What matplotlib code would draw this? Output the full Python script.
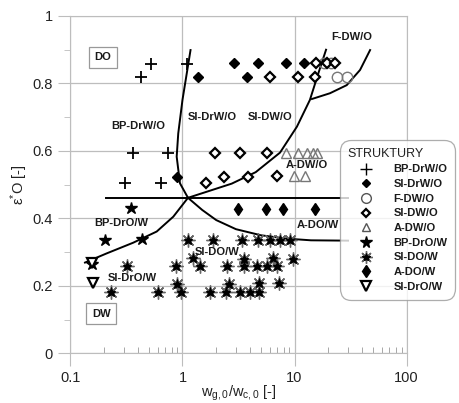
import matplotlib
matplotlib.use("Agg")
import matplotlib.pyplot as plt
from matplotlib.lines import Line2D

plt.rcParams['font.family'] = ['Liberation Sans', 'DejaVu Sans']
plt.rcParams['mathtext.fontset'] = 'custom'
plt.rcParams['mathtext.rm'] = 'Liberation Sans'
plt.rcParams['mathtext.it'] = 'Liberation Sans'

# --- dane pomiarowe ---
bp_drw_o_x = [0.43, 0.52, 1.09, 0.36, 0.75, 0.305, 0.64]
bp_drw_o_y = [0.818, 0.858, 0.858, 0.593, 0.593, 0.504, 0.504]

si_drw_o_x = [1.38, 2.9, 4.75, 8.45, 12.1, 3.74, 0.89]
si_drw_o_y = [0.818, 0.86, 0.86, 0.86, 0.86, 0.818, 0.522]

f_dw_o_x = [18.5, 21.0, 24.1, 29.2]
f_dw_o_y = [0.86, 0.86, 0.818, 0.818]

si_dw_o_x = [15.6, 19.6, 23.0, 6.04, 10.8, 15.2, 1.95, 3.26, 5.65, 1.63, 2.37, 3.87, 7.0]
si_dw_o_y = [0.86, 0.86, 0.86, 0.818, 0.818, 0.818, 0.593, 0.593, 0.593, 0.506, 0.524, 0.524, 0.527]

a_dw_o_x = [8.4, 10.8, 13.0, 14.7, 15.7, 9.8, 12.4]
a_dw_o_y = [0.593, 0.593, 0.593, 0.593, 0.593, 0.526, 0.526]

bp_dro_w_x = [0.347, 0.205, 0.432, 0.155]
bp_dro_w_y = [0.43, 0.337, 0.34, 0.264]

si_do_w_x = [1.13, 1.88, 3.38, 4.75, 6.04, 7.42, 9.12,
             1.23, 3.56, 6.47, 9.76,
             0.32, 0.875, 1.43, 2.48, 3.56, 4.59, 5.65, 6.93,
             0.90, 2.62, 4.85, 7.23,
             0.229, 0.608, 0.98, 1.76, 2.44, 3.26, 4.0, 4.85]
si_do_w_y = [0.336, 0.336, 0.336, 0.336, 0.336, 0.336, 0.336,
             0.282, 0.280, 0.282, 0.279,
             0.259, 0.259, 0.259, 0.259, 0.259, 0.259, 0.259, 0.259,
             0.205, 0.205, 0.207, 0.207,
             0.182, 0.182, 0.182, 0.182, 0.182, 0.182, 0.182, 0.182]

a_do_w_x = [3.15, 5.6, 7.94, 15.2]
a_do_w_y = [0.427, 0.427, 0.427, 0.427]

si_dro_w_x = [0.155, 0.16]
si_dro_w_y = [0.267, 0.2075]

# granice obszarow
gr_poz_x = [0.21, 30]
gr_poz_y = [0.461, 0.461]
gr_pd_x = [1.12, 1.5, 2.0, 3.0, 5.0, 8.5, 14.0, 30.0]
gr_pd_y = [0.461, 0.425, 0.395, 0.368, 0.35, 0.34, 0.335, 0.334]
gr_ld_x = [0.135, 0.21, 0.364, 0.589, 0.828, 1.12]
gr_ld_y = [0.269, 0.296, 0.328, 0.361, 0.405, 0.461]
gr_pion_x = [1.12, 0.95, 0.888, 0.917, 1.0, 1.18]
gr_pion_y = [0.461, 0.504, 0.583, 0.652, 0.751, 0.899]
gr_gora_x = [1.12, 2.75, 4.5, 7.42, 10.5, 13.7, 16.3, 19.1]
gr_gora_y = [0.461, 0.503, 0.537, 0.595, 0.672, 0.751, 0.83, 0.9]
gr_f_x = [14.3, 20.7, 29.2, 38.4, 47.2]
gr_f_y = [0.754, 0.771, 0.795, 0.84, 0.899]

etykiety = ["BP-DrW/O", "SI-DrW/O", "F-DW/O", "SI-DW/O", "A-DW/O",
            "BP-DrO/W", "SI-DO/W", "A-DO/W", "SI-DrO/W"]

szary = '#bdbdbd'

fig = plt.figure(figsize=(4.6, 4.03), dpi=100)
ax = fig.add_axes([0.153, 0.1233, 0.731, 0.8370])

ax.set_xscale('log')
ax.set_xlim(0.1, 100)
ax.set_ylim(0, 1)

ax.grid(True, which='major', color=szary, lw=0.9)
for s in ax.spines.values():
    s.set_color(szary)
ax.tick_params(axis='both', which='major', color=szary, labelsize=10.5,
               labelcolor='#222222', length=9, direction='out')
ax.tick_params(axis='x', which='minor', color='#999999', length=4, direction='in')
ax.set_yticks([0, 0.2, 0.4, 0.6, 0.8, 1.0])
ax.set_yticklabels(['0', '0.2', '0.4', '0.6', '0.8', '1'])
ax.set_yticks([0.1, 0.3, 0.5, 0.7, 0.9], minor=True)
ax.tick_params(axis='y', which='minor', color=szary, length=4, direction='out')
ax.set_xticks([0.1, 1, 10, 100])
ax.set_xticklabels(['0.1', '1', '10', '100'])

# granice
for gx, gy in [(gr_poz_x, gr_poz_y), (gr_pd_x, gr_pd_y), (gr_ld_x, gr_ld_y),
               (gr_pion_x, gr_pion_y), (gr_gora_x, gr_gora_y), (gr_f_x, gr_f_y)]:
    ax.plot(gx, gy, color='black', lw=1.4, zorder=3)

# punkty
ax.plot(f_dw_o_x, f_dw_o_y, 'o', ms=7.5, mfc='none', mec='#777777', mew=1, zorder=4)
ax.plot(bp_drw_o_x, bp_drw_o_y, '+', ms=9, color='black', mew=1.3, zorder=5)
ax.plot(si_drw_o_x, si_drw_o_y, 'D', ms=5, color='black', zorder=5)
ax.plot(si_dw_o_x, si_dw_o_y, 'D', ms=4.6, mfc='white', mec='black', mew=1.6, zorder=5)
ax.plot(a_dw_o_x, a_dw_o_y, '^', ms=6.5, mfc='none', mec='#777777', mew=1, zorder=4)
ax.plot(bp_dro_w_x, bp_dro_w_y, '*', ms=9, color='black', zorder=5)
ax.plot(si_do_w_x, si_do_w_y, marker=(8, 2, 0), ls='none', ms=10, mec='#666666', mew=1, zorder=5)
ax.plot(si_do_w_x, si_do_w_y, '*', ms=6.5, color='black', zorder=5)
ax.plot(a_do_w_x, a_do_w_y, 'd', ms=6.5, color='black', zorder=5)
ax.plot(si_dro_w_x, si_dro_w_y, 'v', ms=7, mfc='white', mec='black', mew=1.6, zorder=6)

# opisy obszarow
opis = dict(fontsize=8, fontweight='bold', color='#1a1a1a', ha='center', va='center', zorder=7)
ax.text(32.4, 0.939, "F-DW/O", **opis)
ax.text(0.40, 0.674, "BP-DrW/O", **opis)
ax.text(1.85, 0.70, "SI-DrW/O", **opis)
ax.text(6.0, 0.70, "SI-DW/O", **opis)
ax.text(12.8, 0.558, "A-DW/O", **opis)
ax.text(16.3, 0.38, "A-DO/W", **opis)
ax.text(0.286, 0.385, "BP-DrO/W", **opis)
ax.text(2.02, 0.301, "SI-DO/W", **opis)
ax.text(0.356, 0.222, "SI-DrO/W", **opis)
ramka = dict(boxstyle='square,pad=0.5', fc='white', ec='#999999', lw=0.9)
ax.text(0.196, 0.878, "DO", bbox=ramka, **opis)
ax.text(0.188, 0.117, "DW", bbox=ramka, **opis)

ax.set_xlabel(r"w$_{\mathregular{g,0}}$/w$_{\mathregular{c,0}}$ [-]", fontsize=10.5, color='#222222', labelpad=-1)
ax.set_ylabel(r"ε$^{*}$O [-]", fontsize=10.5, color='#222222', labelpad=2)

# legenda
uchwyty = [
    Line2D([], [], ls='none', marker='+', ms=8, color='black', mew=1.0),
    Line2D([], [], ls='none', marker='D', ms=4.5, color='black'),
    Line2D([], [], ls='none', marker='o', ms=7, mfc='none', mec='#555555', mew=1),
    Line2D([], [], ls='none', marker='D', ms=4.3, mfc='white', mec='black', mew=1.6),
    Line2D([], [], ls='none', marker='^', ms=6, mfc='none', mec='#555555', mew=1),
    Line2D([], [], ls='none', marker='*', ms=8.5, color='black'),
    (Line2D([], [], ls='none', marker=(8, 2, 0), ms=9, mec='#666666', mew=1),
     Line2D([], [], ls='none', marker='*', ms=6, color='black')),
    Line2D([], [], ls='none', marker='d', ms=6, color='black'),
    Line2D([], [], ls='none', marker='v', ms=7, mfc='white', mec='black', mew=1.6),
]
leg = fig.legend(uchwyty, etykiety, loc='upper left', bbox_to_anchor=(340 / 460, 1 - 140 / 403),
                 title="STRUKTURY", alignment='left', frameon=True, fancybox=True,
                 prop={'weight': 'bold', 'size': 8}, title_fontsize=9,
                 borderpad=0.7, handlelength=3.2, handletextpad=0.9, labelspacing=0.42,
                 borderaxespad=0)
leg.get_frame().set_edgecolor('#999999')
leg.get_frame().set_linewidth(0.9)
leg.get_frame().set_boxstyle('round', pad=0, rounding_size=1.0)
leg.get_title().set_color('#222222')
for t in leg.get_texts():
    t.set_color('#1a1a1a')
leg.set_zorder(10)

fig.savefig('out.png', dpi=100)
